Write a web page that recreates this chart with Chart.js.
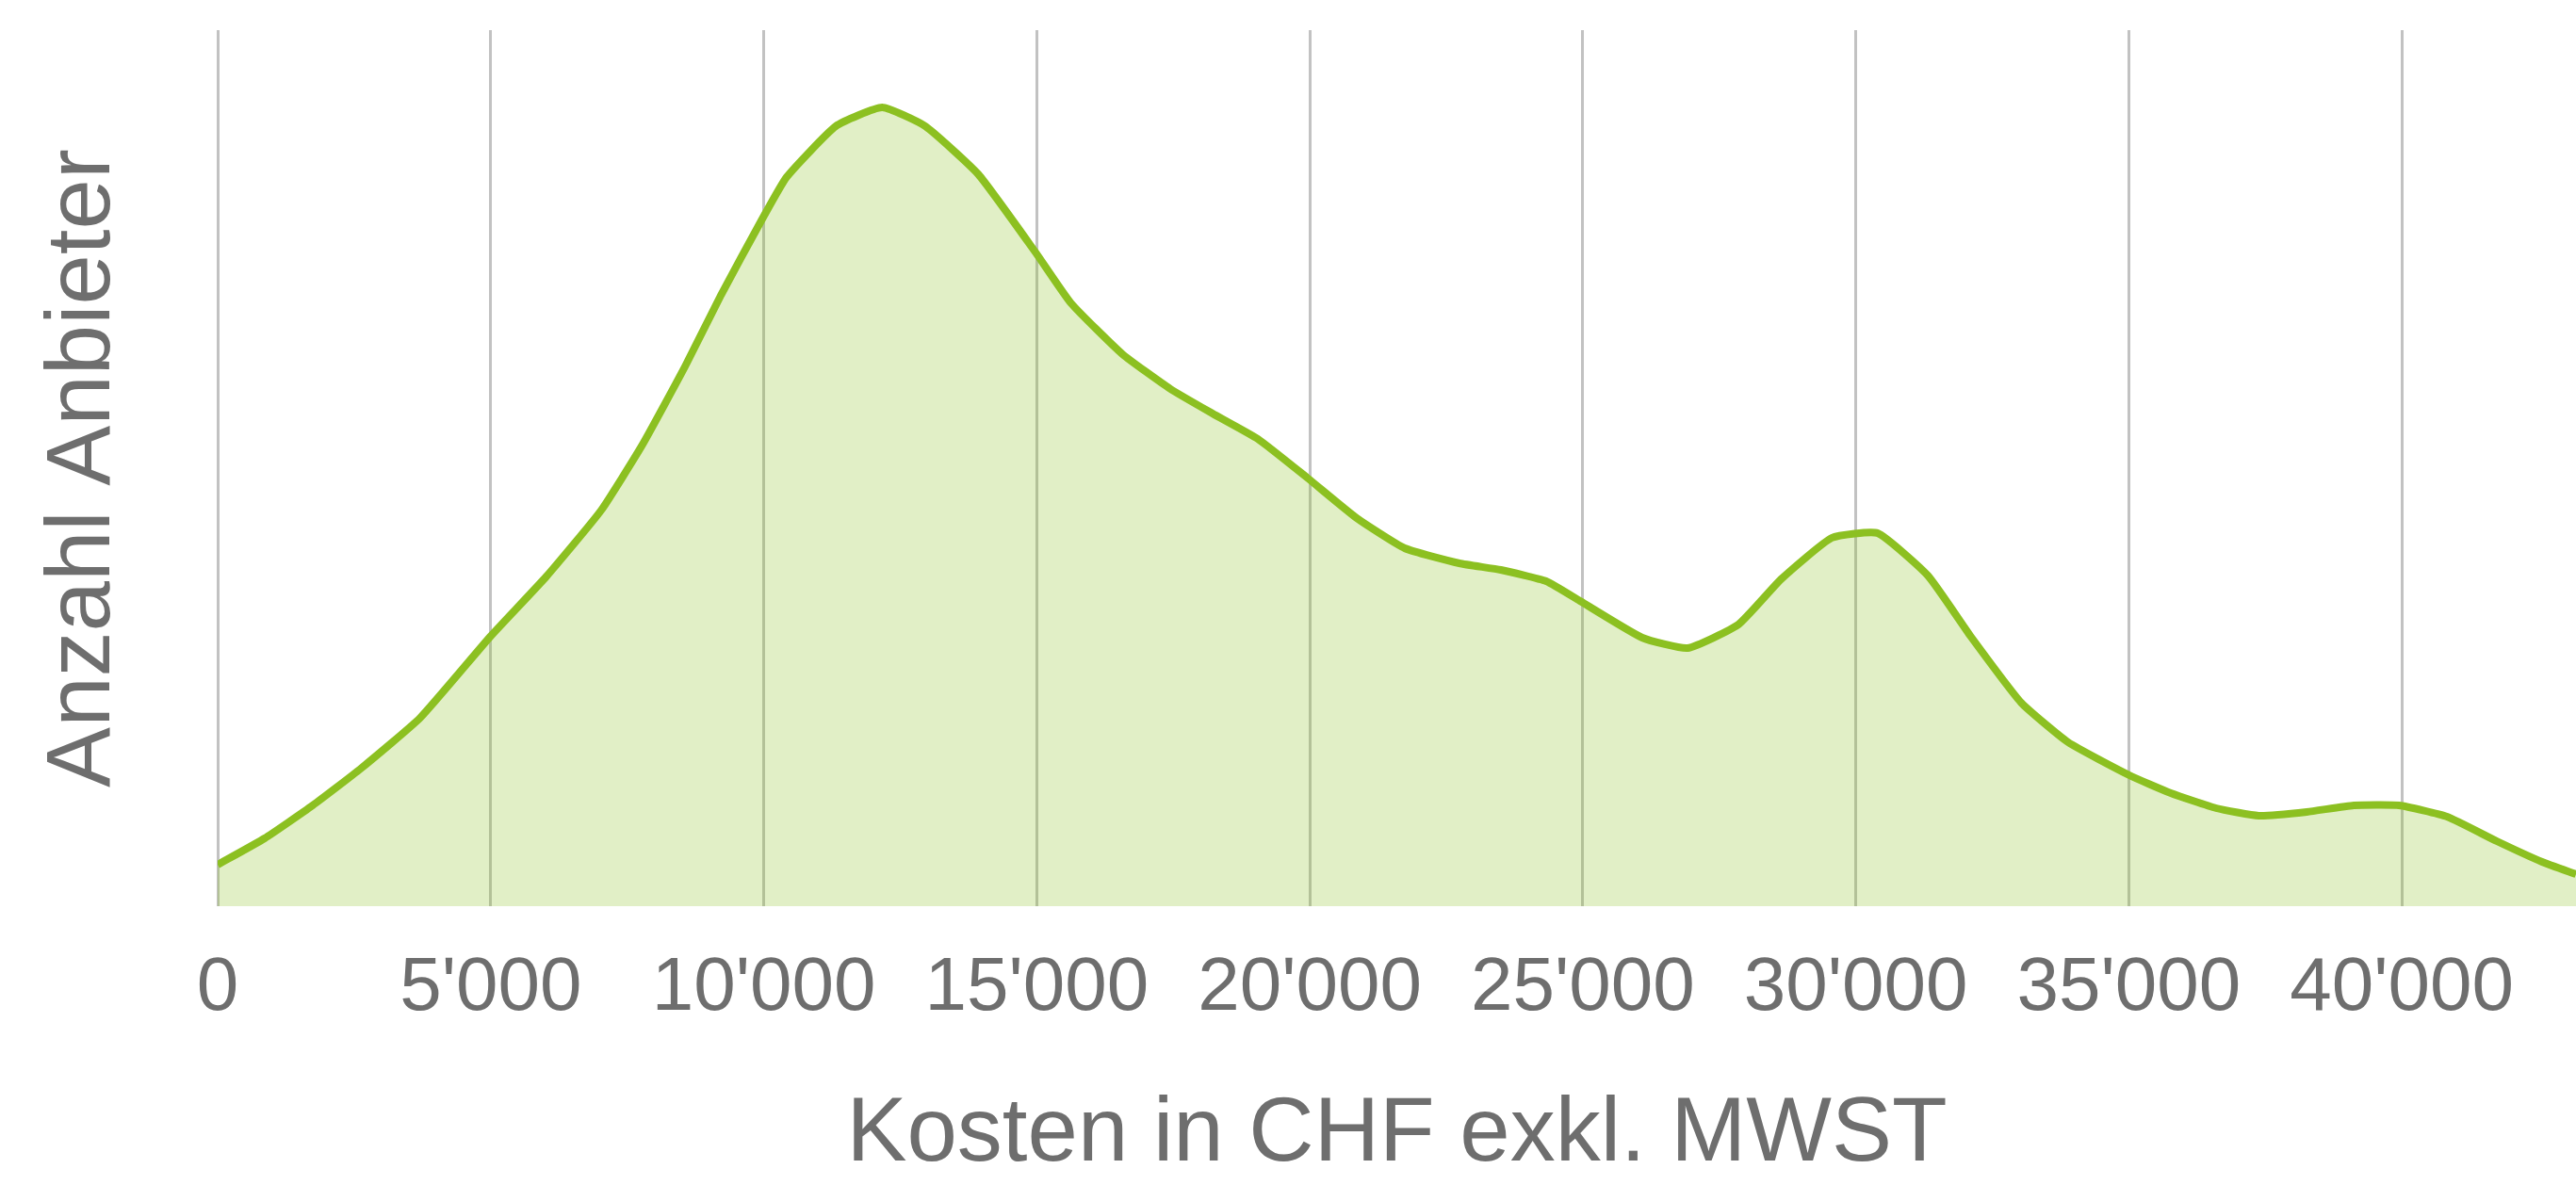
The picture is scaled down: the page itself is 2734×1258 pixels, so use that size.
<!DOCTYPE html>
<html>
<head>
<meta charset="utf-8">
<script src="https://cdn.jsdelivr.net/npm/chart.js@4/dist/chart.umd.min.js"></script>
<style>
  html, body { margin: 0; padding: 0; background: #ffffff; }
  #wrap { position: relative; width: 2734px; height: 1258px; }
</style>
</head>
<body>
<div id="wrap"><canvas id="c"></canvas></div>
<script>
// Cost (CHF) positions of the density curve vertices
const costs = [0, 860, 1740, 2620, 3710, 4990, 6020, 7020, 7780, 8560, 9220, 9940, 10420, 11320, 12170, 12960,
  13930, 14980, 15630, 16570, 17450, 18220, 19050, 19950, 20860, 21740, 22740, 23500, 24330, 24950,
  26090, 26920, 27850, 28630, 29560, 30400, 31320, 32110, 33030, 33890, 35010, 35770, 36600, 37380,
  38260, 39120, 39950, 40830, 41740, 42570, 43190];
// Relative number of providers (density)
const anbieter = [4.4, 7.2, 10.7, 14.6, 20.0, 28.6, 35.0, 42.0, 49.0, 57.3, 64.9, 72.6, 77.4, 82.8, 84.8, 82.8,
  77.7, 69.4, 64.0, 58.6, 54.9, 52.3, 49.6, 45.5, 41.2, 38.0, 36.4, 35.7, 34.5, 32.4,
  28.5, 27.4, 29.9, 34.7, 39.1, 39.6, 35.1, 28.6, 21.6, 17.4, 13.9, 12.0, 10.4, 9.6,
  10.0, 10.7, 10.7, 9.5, 6.9, 4.7, 3.4];
const tickValues = [0, 5000, 10000, 15000, 20000, 25000, 30000, 35000, 40000];
const tickLabels = ["0", "5'000", "10'000", "15'000", "20'000", "25'000", "30'000", "35'000", "40'000"];
const xTitle = "Kosten in CHF exkl. MWST";
const yTitle = "Anzahl Anbieter";
const xMin = 0, xMax = 43190, yMin = 0, yMax = 93;

const points = costs.map((c, i) => ({ x: c, y: anbieter[i] }));
const textColor = '#6e6e6e';

new Chart(document.getElementById('c'), {
  type: 'line',
  data: {
    datasets: [{
      data: points,
      borderColor: '#8cc021',
      borderWidth: 8,
      backgroundColor: 'rgba(140,192,33,0.26)',
      fill: 'origin',
      pointRadius: 0,
      tension: 0.15
    }]
  },
  options: {
    responsive: true,
    maintainAspectRatio: false,
    animation: false,
    events: [],
    layout: { padding: { top: 32, left: 0, right: 0, bottom: 0 } },
    plugins: { legend: { display: false }, tooltip: { enabled: false } },
    scales: {
      x: {
        type: 'linear',
        min: xMin, max: xMax,
        afterBuildTicks: (scale) => { scale.ticks = tickValues.map(v => ({ value: v })); },
        afterFit: (scale) => { scale.height = 296; },
        ticks: {
          callback: (v) => tickLabels[tickValues.indexOf(v)],
          color: textColor,
          font: { family: 'Liberation Sans', size: 80 },
          padding: 40,
          maxRotation: 0,
          autoSkip: false
        },
        grid: { display: true, color: '#c2c2c2', lineWidth: 3, drawTicks: false },
        border: { display: false },
        title: {
          display: true, text: xTitle, color: textColor,
          font: { family: 'Liberation Sans', size: 96, lineHeight: 1 },
          padding: { top: 0, bottom: 4 }
        }
      },
      y: {
        type: 'linear',
        min: yMin, max: yMax,
        afterFit: (scale) => { scale.width = 231; },
        ticks: { display: false },
        grid: { display: false, drawTicks: false },
        border: { display: false },
        title: {
          display: true, text: yTitle, color: textColor,
          font: { family: 'Liberation Sans', size: 96, lineHeight: 1 },
          padding: { top: 42, bottom: 0 }
        }
      }
    }
  }
});
</script>
</body>
</html>
